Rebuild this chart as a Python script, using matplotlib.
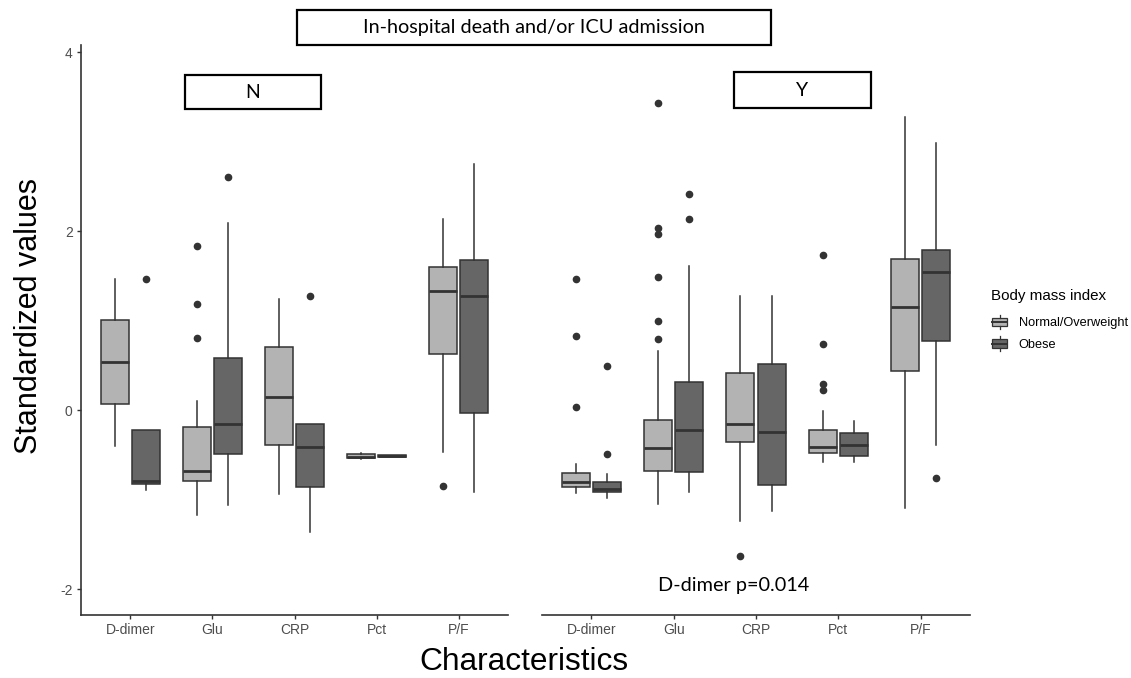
import matplotlib
matplotlib.use("Agg")
from matplotlib import pyplot as plt
from matplotlib.patches import Rectangle, Patch
from matplotlib.lines import Line2D
from matplotlib.legend_handler import HandlerBase
import numpy as np

"""Grouped boxplots of standardized values by BMI group, faceted by outcome (N / Y)"""

categories = ["D-dimer", "Glu", "CRP", "Pct", "P/F"]
groups = ["Normal/Overweight", "Obese"]
panels = ["N", "Y"]

# five-number summaries: (whislo, q1, med, q3, whishi)
N_normal = [(-0.40, 0.07, 0.54, 1.01, 1.47),
            (-1.17, -0.79, -0.68, -0.19, 0.10),
            (-0.94, -0.39, 0.15, 0.70, 1.24),
            (-0.55, -0.54, -0.52, -0.49, -0.48),
            (-0.47, 0.63, 1.33, 1.60, 2.14)]
N_obese = [(-0.89, -0.83, -0.79, -0.22, -0.22),
           (-1.06, -0.49, -0.16, 0.58, 2.09),
           (-1.36, -0.86, -0.41, -0.16, -0.16),
           (-0.52, -0.52, -0.51, -0.50, -0.50),
           (-0.91, -0.03, 1.28, 1.68, 2.75)]
Y_normal = [(-0.93, -0.86, -0.80, -0.70, -0.60),
            (-1.05, -0.68, -0.42, -0.11, 0.66),
            (-1.24, -0.36, -0.16, 0.42, 1.28),
            (-0.58, -0.48, -0.41, -0.22, -0.01),
            (-1.09, 0.44, 1.15, 1.69, 3.28)]
Y_obese = [(-0.98, -0.92, -0.88, -0.80, -0.71),
           (-0.92, -0.69, -0.22, 0.31, 1.61),
           (-1.13, -0.84, -0.24, 0.52, 1.28),
           (-0.58, -0.51, -0.39, -0.26, -0.12),
           (-0.39, 0.77, 1.54, 1.79, 2.98)]

# outliers
N_normal_out = [[], [1.83, 1.18, 0.81], [], [], [-0.85]]
N_obese_out = [[1.47], [2.60], [1.28], [], []]
Y_normal_out = [[1.47, 0.83, 0.04], [3.43, 2.03, 1.97, 1.49, 0.99, 0.80],
                [-1.63], [1.73, 0.74, 0.29, 0.22], []]
Y_obese_out = [[0.49, -0.49], [2.42, 2.13], [], [], [-0.76]]

data = {"N": [(N_normal, N_normal_out), (N_obese, N_obese_out)],
        "Y": [(Y_normal, Y_normal_out), (Y_obese, Y_obese_out)]}

fills = ["#B3B3B3", "#666666"]
edge = "#333333"
W, H = 1131, 678
SANS = "Liberation Sans"

fig = plt.figure(figsize=(W / 100, H / 100), dpi=100)
ax_pos = {"N": [81 / W, 1 - 615 / H, 427 / W, 570 / H],
          "Y": [542 / W, 1 - 615 / H, 428 / W, 570 / H]}

x = np.arange(1, len(categories) + 1)
offsets = [-0.19, 0.19]

for panel in panels:
    ax = fig.add_axes(ax_pos[panel])
    for g, (summ, outs) in enumerate(data[panel]):
        stats = []
        for (lo, q1, med, q3, hi), fl in zip(summ, outs):
            stats.append(dict(whislo=lo, q1=q1, med=med, q3=q3, whishi=hi, fliers=fl))
        ax.bxp(stats, positions=x + offsets[g], widths=0.34, patch_artist=True,
               showcaps=False,
               boxprops=dict(facecolor=fills[g], edgecolor=edge, linewidth=1.1),
               medianprops=dict(color=edge, linewidth=2.0),
               whiskerprops=dict(color=edge, linewidth=1.1),
               flierprops=dict(marker="o", markerfacecolor=edge, markeredgecolor=edge,
                               markersize=4.5))
    ax.set_xlim(0.4, 5.6)
    ax.set_ylim(-2.29, 4.08)
    ax.set_xticks(x)
    ax.set_xticklabels(categories, family=SANS)
    ax.set_yticks([-2, 0, 2, 4])
    ax.tick_params(axis="both", colors="#333333", length=3, width=1, labelcolor="#4D4D4D",
                   labelsize=10, pad=3)
    for s in ["top", "right"]:
        ax.spines[s].set_visible(False)
    for s in ["bottom", "left"]:
        ax.spines[s].set_color("#333333")
        ax.spines[s].set_linewidth(1.2)
    if panel == "N":
        ax.set_yticklabels(["-2", "0", "2", "4"], family=SANS)
    else:
        ax.spines["left"].set_visible(False)
        ax.tick_params(axis="y", left=False, labelleft=False)
    ax.patch.set_alpha(0)


def boxed_text(x0, y0, x1, y1, s, size):
    fig.patches.append(Rectangle((x0 / W, 1 - y1 / H), (x1 - x0) / W, (y1 - y0) / H,
                                 transform=fig.transFigure, facecolor="white",
                                 edgecolor="black", linewidth=1.6))
    fig.text((x0 + x1) / 2 / W, 1 - (y0 + y1) / 2 / H, s, ha="center", va="center",
             fontsize=size, family="Lato")


boxed_text(297, 10, 771, 45, "In-hospital death and/or ICU admission", 14.3)
boxed_text(185, 75, 321, 109, "N", 14)
boxed_text(734, 72, 871, 108, "Y", 14)

fig.text(734 / W, 1 - 585 / H, "D-dimer p=0.014", ha="center", va="center",
         fontsize=14.3, family="Lato")

fig.text(29 / W, 1 - 316 / H, "Standardized values", rotation=90, ha="center",
         va="center", fontsize=22, family=SANS)
fig.text(524 / W, 1 - 662 / H, "Characteristics", ha="center", va="center",
         fontsize=22.8, family=SANS)


class BoxKey(HandlerBase):
    # little boxplot glyph like the ggplot legend key
    def create_artists(self, legend, orig_handle, xdescent, ydescent, width, height,
                       fontsize, trans):
        x0, y0 = -xdescent, -ydescent
        fc = orig_handle.get_facecolor()
        box = Rectangle((x0, y0 + 0.2 * height), width, 0.6 * height, facecolor=fc,
                        edgecolor=edge, linewidth=0.9, transform=trans)
        med = Line2D([x0, x0 + width], [y0 + 0.5 * height] * 2, color=edge,
                     linewidth=1.4, transform=trans)
        w1 = Line2D([x0 + width / 2] * 2, [y0, y0 + 0.2 * height], color=edge,
                    linewidth=0.9, transform=trans)
        w2 = Line2D([x0 + width / 2] * 2, [y0 + 0.8 * height, y0 + height], color=edge,
                    linewidth=0.9, transform=trans)
        return [box, med, w1, w2]


# legend title drawn separately so the gap to the keys matches
fig.text(991 / W, 1 - 296 / H, "Body mass index", ha="left", va="center",
         fontsize=10.9, family=SANS)
handles = [Patch(facecolor=fills[i], edgecolor=edge, label=groups[i]) for i in range(2)]
leg = fig.legend(handles=handles, loc="upper left",
                 bbox_to_anchor=(992 / W, 1 - 315 / H), frameon=False,
                 prop=dict(family=SANS, size=9.2),
                 handler_map={Patch: BoxKey()},
                 handlelength=1.2, handleheight=1.35, handletextpad=0.9,
                 labelspacing=0.55, borderaxespad=0, borderpad=0)

fig.savefig("out.png", dpi=100)
